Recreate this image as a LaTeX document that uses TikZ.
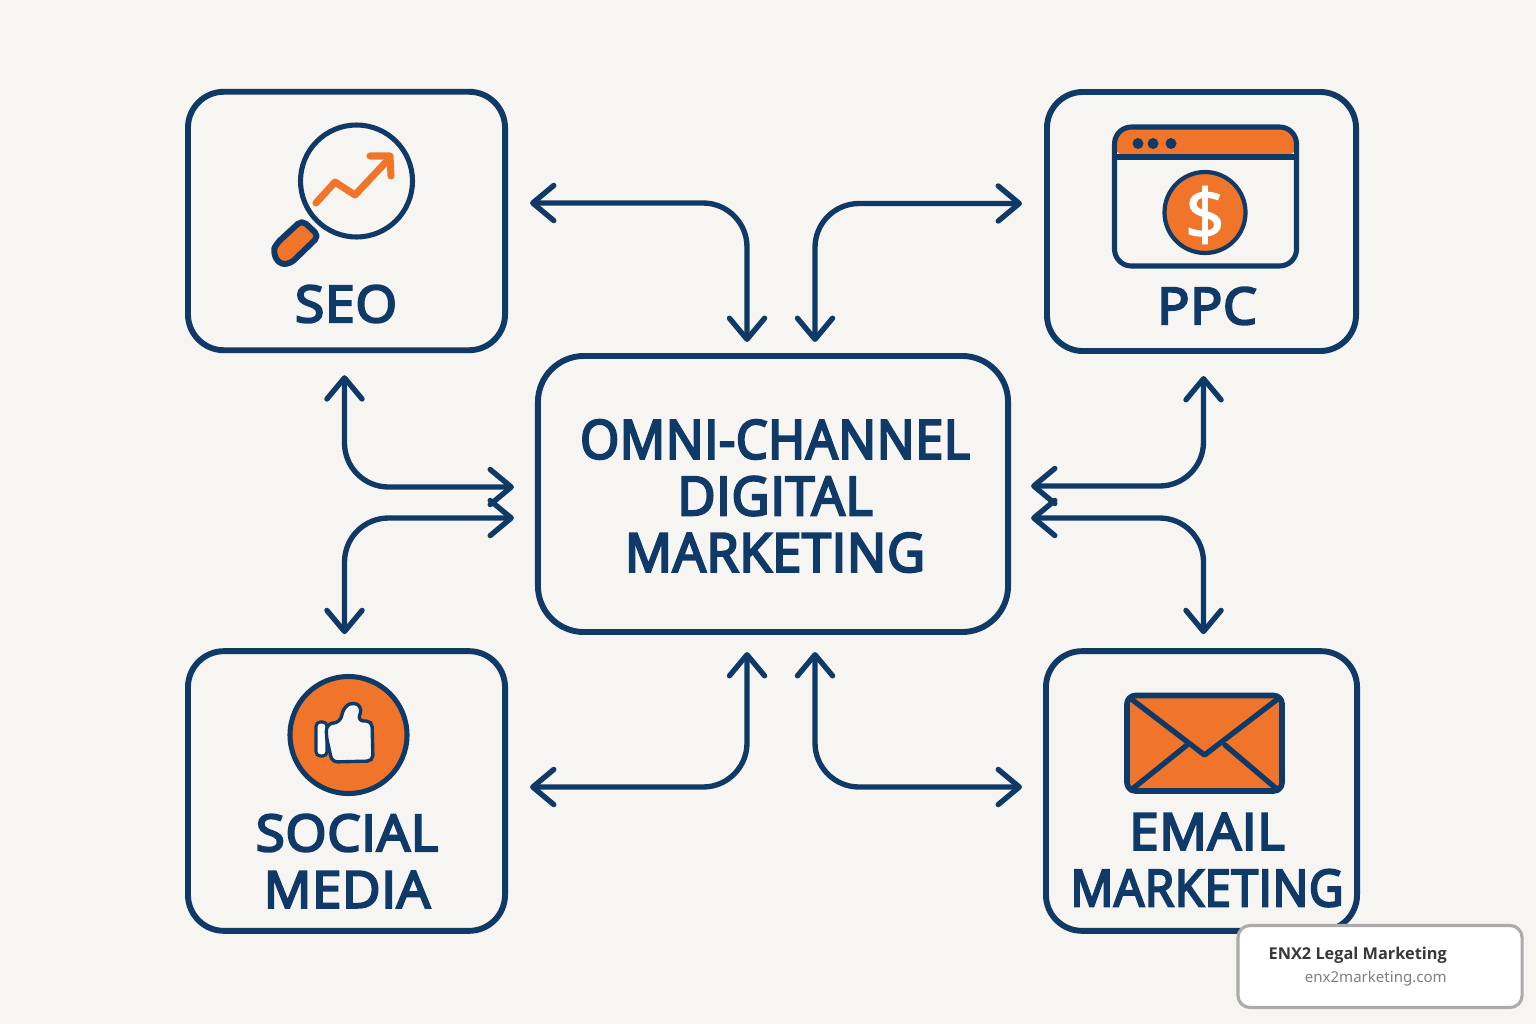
\documentclass[tikz,border=0pt]{standalone}
\usepackage{fontspec}
\setmainfont{Noto Sans}
\newfontfamily\badgefont{Open Sans}
\newfontfamily\coinfont[FakeBold=2]{Open Sans}
\newfontfamily\labelfont[FakeBold=4.5,FakeStretch=0.975,LetterSpace=1.5]{Open Sans}
\newfontfamily\narrowlabelfont[FakeBold=4.5,FakeStretch=0.935,LetterSpace=1.5]{Open Sans}
\newfontfamily\widelabelfont[FakeBold=4.5,FakeStretch=1.055,LetterSpace=1.5]{Open Sans}
\newfontfamily\midlabelfont[FakeBold=4.5,FakeStretch=1.04,LetterSpace=1.5]{Open Sans}
\usetikzlibrary{arrows.meta,calc}
\definecolor{navy}{HTML}{0F3A68}
\definecolor{brandorange}{HTML}{F0752B}
\definecolor{paper}{HTML}{F7F5F1}
\tikzset{
  channel/.style={draw=navy, line width=4.2pt, rounded corners=0.9cm, outer sep=0pt, inner sep=0pt},
  link/.style={draw=navy, line width=3.8pt, rounded corners=1.1cm, line cap=round, line join=round, <->},
  caption/.style={text=navy, align=center, font=\labelfont\fontsize{36}{40}\selectfont},
  iconline/.style={draw=navy, line width=3.6pt, line join=round, line cap=round},
  trendline/.style={draw=brandorange, line width=5pt, line cap=round, line join=round},
}
\begin{document}
\begin{tikzpicture}[x=0.025cm, y=-0.025cm, >={Straight Barb[length=15pt,width=25pt,round]}]

  \useasboundingbox (0,0) rectangle (1536,1024);
  \fill[paper] (0,0) rectangle (1536,1024);

  % Nodes
  \node[channel, minimum width=7.925cm, minimum height=6.46cm] (seo) at (346.5,221) {};
  \node[channel, minimum width=7.725cm, minimum height=6.475cm] (ppc) at (1201.5,221.5) {};
  \node[channel, minimum width=11.75cm, minimum height=6.9cm, rounded corners=1.15cm] (hub) at (773,494) {};
  \node[channel, minimum width=7.925cm, minimum height=6.99cm] (social) at (346.5,791) {};
  \node[channel, minimum width=7.775cm, minimum height=6.99cm] (email) at (1201.5,791) {};

  % Labels
  \node[caption, font=\widelabelfont\fontsize{36}{40}\selectfont] (seolabel) at (346,304) {SEO};
  \node[caption, font=\widelabelfont\fontsize{36}{40}\selectfont] (ppclabel) at (1207,306) {PPC};
  \node[caption, font=\labelfont\fontsize{38}{40}\selectfont] (hublabel) at (775,496) {{\narrowlabelfont OMNI-CHANNEL}\\[0.2pt]DIGITAL\\[0.2pt]MARKETING};
  \node[caption, font=\midlabelfont\fontsize{36}{40}\selectfont] (sociallabel) at (347,861) {SOCIAL\\[0.2pt]MEDIA};
  \node[caption] (emaillabel) at (1207,860) {{\midlabelfont EMAIL}\\[0.2pt]{\narrowlabelfont MARKETING}};

  % Double arrows
  \draw[link] ($(seo.east)+(25,-18)$) -| ($(hub.north)+(-26,-14)$);
  \draw[link] ($(ppc.west)+(-25,-18)$) -| ($(hub.north)+(42,-14)$);
  \draw[link] ($(seo.south)+(-2,25)$) |- ($(hub.west)+(-24,-7)$);
  \draw[link] ($(hub.west)+(-24,24)$) -| ($(social.north)+(-2,-17)$);
  \draw[link] ($(ppc.south)+(2,25)$) |- ($(hub.east)+(23,-8)$);
  \draw[link] ($(hub.east)+(23,24)$) -| ($(email.north)+(2,-17)$);
  \draw[link] ($(social.east)+(25,-4)$) -| ($(hub.south)+(-26,20)$);
  \draw[link] ($(email.west)+(-24,-4)$) -| ($(hub.south)+(42,20)$);

  % SEO icon
  \draw[iconline] (356.5,181) circle (56);
  \draw[iconline, fill=brandorange, line width=4.2pt, rounded corners=4] (302,220) -- (319,236) -- (290,264) -- (279,264) -- (273,252) -- (276,244) -- cycle;
  \draw[trendline] (316,203) -- (335,182) -- (355,195) -- (386,162);
  \draw[trendline] (370,156) -- (390,156) -- (391,176);

  % PPC icon
  \fill[brandorange, rounded corners=10] (1114,127) -- (1297,127) -- (1297,157) -- (1114,157) -- cycle;
  \draw[iconline, rounded corners=12] (1114.5,127) rectangle (1296.5,266);
  \draw[iconline] (1114.5,157) -- (1296.5,157);
  \foreach \x in {1138,1153,1171}
    \fill[navy] (\x,143.5) circle (5.5);
  \draw[iconline, fill=brandorange, line width=3pt] (1205,212.5) circle (40.5);
  \node[text=white, font=\coinfont\fontsize{50}{52}\selectfont] (dollar) at (1205,215) {\$};

  % Social icon
  \draw[iconline, fill=brandorange, line width=3.6pt] (348.5,735) circle (58.5);
  \draw[draw=navy, line width=2.2pt, fill=white, rounded corners=3] (316,722) rectangle (327,756);
  \draw[draw=navy, line width=2.4pt, fill=paper, rounded corners=4] (326,735) -- (327,724) -- (340,722) -- (344,707) -- (353,702) -- (362,707) -- (358,721) -- (372,721) -- (373,761) -- (332,762) -- cycle;

  % Email icon
  \draw[iconline, fill=brandorange, line width=4pt, rounded corners=6] (1127,695.5) rectangle (1282,791);
  \draw[iconline, line width=3.8pt] (1130,698) -- (1204.5,755) -- (1279,698);
  \draw[iconline, line width=3.8pt] (1131,790) -- (1187,745);
  \draw[iconline, line width=3.8pt] (1278,790) -- (1225,745);

  % Badge
  \node[draw=black!33, line width=2.2pt, fill=white, rounded corners=0.3cm, minimum width=7.1cm, minimum height=2.05cm, outer sep=0pt] (badge) at (1380,966.5) {};
  \node[anchor=east, text=black!78, font=\badgefont\bfseries\fontsize{11.6}{14}\selectfont, inner sep=0pt] (badgename) at (1447,955) {ENX2 Legal Marketing};
  \node[anchor=east, text=black!50, font=\fontsize{10.7}{13}\selectfont, inner sep=0pt] (badgeurl) at (1447,979) {enx2marketing.com};

\end{tikzpicture}
\end{document}
